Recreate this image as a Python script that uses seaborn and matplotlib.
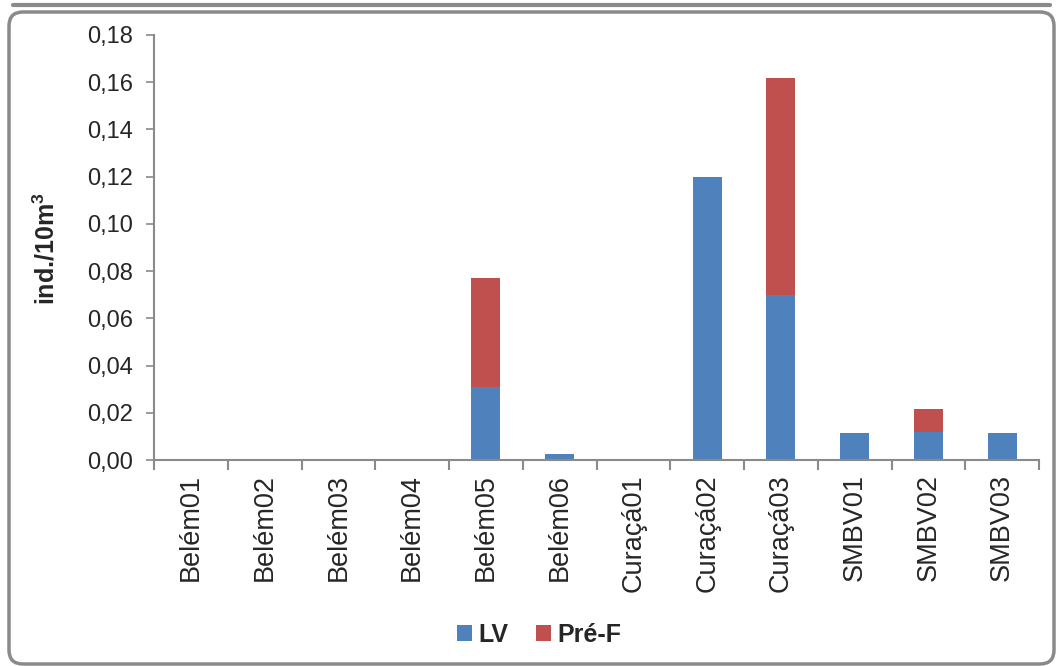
import matplotlib
matplotlib.use("Agg")
import matplotlib.pyplot as plt
import seaborn as sns
import pandas as pd
from matplotlib.patches import FancyBboxPatch, Patch
from matplotlib.lines import Line2D
from matplotlib.ticker import FixedLocator, FuncFormatter, MultipleLocator, NullFormatter

# ---- data ----
stations = ["Belém01", "Belém02", "Belém03", "Belém04", "Belém05", "Belém06",
            "Curaçá01", "Curaçá02", "Curaçá03", "SMBV01", "SMBV02", "SMBV03"]
lv = [0, 0, 0, 0, 0.031, 0.0025, 0, 0.120, 0.070, 0.0115, 0.012, 0.0115]
pre_f = [0, 0, 0, 0, 0.046, 0, 0, 0, 0.092, 0, 0.0095, 0]
series_names = ["LV", "Pré-F"]
colors = ["#4F81BD", "#C0504D"]
y_label = r"ind./10m$^\mathbf{3}$"

sns.set_theme(style="white")
plt.rcParams["font.family"] = ["Liberation Sans", "DejaVu Sans"]
plt.rcParams["mathtext.fontset"] = "custom"
plt.rcParams["mathtext.rm"] = "Liberation Sans"
plt.rcParams["mathtext.bf"] = "Liberation Sans:bold"

df = pd.DataFrame({"station": stations, "LV": lv, "Pré-F": pre_f})
df["total"] = df["LV"] + df["Pré-F"]

W, H = 1058, 666
fig = plt.figure(figsize=(W / 100, H / 100), dpi=100)
fig.patch.set_facecolor("white")

# outer rounded border and top line
fig.patches.append(FancyBboxPatch((9, 2), 1045, 652,
                                  boxstyle="round,pad=0,rounding_size=14",
                                  transform=None, facecolor="none",
                                  edgecolor="#8a8a8a", linewidth=2.5))
fig.lines.append(Line2D([13, 1050], [661, 661], transform=None,
                        color="#8a8a8a", linewidth=3))

ax = fig.add_axes([154 / W, 1 - 460 / H, 885 / W, 425 / H])
ax.set_facecolor("white")

sns.barplot(data=df, x="station", y="total", color=colors[1], width=0.39,
            saturation=1, errorbar=None, linewidth=0, ax=ax)
sns.barplot(data=df, x="station", y="LV", color=colors[0], width=0.39,
            saturation=1, errorbar=None, linewidth=0, ax=ax)

ax.set_xlim(-0.5, len(stations) - 0.5)
ax.set_ylim(0, 0.18)
ax.yaxis.set_major_locator(MultipleLocator(0.02))
ax.yaxis.set_major_formatter(FuncFormatter(lambda v, p: f"{v:.2f}".replace(".", ",")))

# x ticks at boundaries, labels at centers
ax.xaxis.set_major_locator(FixedLocator([i - 0.5 for i in range(len(stations) + 1)]))
ax.xaxis.set_major_formatter(NullFormatter())
ax.xaxis.set_minor_locator(FixedLocator(list(range(len(stations)))))
ax.set_xticklabels(stations, minor=True)
ax.tick_params(axis="x", which="major", length=7, width=1.5, color="#8a8a8a", direction="out", bottom=True)
ax.tick_params(axis="x", which="minor", length=0, pad=10, labelsize=19.5, rotation=90, bottom=True)
ax.tick_params(axis="y", which="major", length=6, width=1.2, color="#8a8a8a", direction="out",
               pad=9, labelsize=17, left=True)

for s in ["top", "right"]:
    ax.spines[s].set_visible(False)
for s in ["left", "bottom"]:
    ax.spines[s].set_color("#8a8a8a")
    ax.spines[s].set_linewidth(1.5)

ax.set_xlabel("")
ax.set_ylabel("")
fig.text(46 / W, 1 - 249 / H, y_label, rotation=90, ha="center", va="center",
         fontsize=18, fontweight="bold")

handles = [Patch(facecolor=c, edgecolor="none", label=n) for c, n in zip(colors, series_names)]
fig.legend(handles=handles, loc="center", bbox_to_anchor=(539 / W, 1 - 635 / H), ncol=2,
           frameon=False, prop={"weight": "bold", "size": 18}, handlelength=0.6,
           handleheight=0.6, handletextpad=0.25, columnspacing=1.1)

fig.savefig("out.png", dpi=100, facecolor="white")
